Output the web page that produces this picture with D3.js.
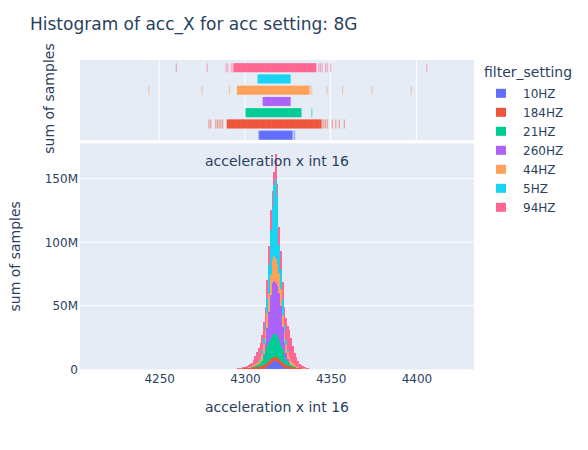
<!DOCTYPE html>
<html><head><meta charset="utf-8">
<script src="https://cdn.jsdelivr.net/npm/d3@7"></script>
<style>
body{margin:0;background:#fff}
text{font-family:"DejaVu Sans",verdana,sans-serif;fill:#2a3f5f}
</style>
</head><body>
<svg id="chart" width="588" height="450"></svg>
<script>
// ---------- data (sum of samples, in millions) ----------
const seriesNames = ["10HZ","184HZ","21HZ","260HZ","44HZ","5HZ","94HZ"];
const seriesColors = ["#636efa","#EF553B","#00cc96","#ab63fa","#FFA15A","#19d3f3","#FF6692"];

const hz10Values = [4308,4309,4310,4311,4312,4313,4314,4315,4316,4317,4318,4319,4320,4321,4322,4323,4324,4325,4326,4327,4328,4329];
const hz10Counts = [0.02,0.05,0.15,0.4,0.9,1.8,3,4.5,5.6,6.3,6.5,5.8,4.6,3.3,2.2,1.3,0.7,0.35,0.15,0.06,0.03,0.01];

const hz184Values = [4279,4280,4283,4284,4285,4286,4287,
  4290,4291,4292,4293,4294,4295,4296,4297,4298,4299,4300,4301,4302,4303,4304,4305,4306,4307,4308,4309,
  4310,4311,4312,4313,4314,4315,4316,4317,4318,4319,4320,4321,4322,4323,4324,4325,4326,4327,4328,4329,
  4330,4331,4332,4333,4334,4335,4336,4337,4338,4339,4340,4341,4342,4343,4344,4345,4346,4347,4348,
  4351,4353,4355,4358];
const hz184Counts = [0.01,0.01,0.01,0.01,0.01,0.01,0.01,
  0.08,0.1,0.15,0.2,0.25,0.3,0.4,0.5,0.6,0.7,0.8,0.9,1.0,1.1,1.3,1.5,1.7,1.9,2.1,2.3,
  2.5,2.7,2.9,3.1,3.3,3.4,3.5,3.5,3.5,3.4,3.2,3.0,2.8,2.5,2.3,2.1,1.9,1.7,1.5,1.3,
  1.1,0.95,0.8,0.7,0.6,0.5,0.4,0.3,0.25,0.2,0.15,0.12,0.1,0.08,0.05,0.04,0.03,0.02,0.02,
  0.01,0.01,0.01,0.01];

const hz21Values = [4301,4302,4303,4304,4305,4306,4307,4308,4309,4310,4311,4312,4313,4314,4315,4316,4317,
  4318,4319,4320,4321,4322,4323,4324,4325,4326,4327,4328,4329,4330,4331,4332,4333,4339];
const hz21Counts = [0.05,0.1,0.2,0.3,0.5,0.8,1.2,1.8,2.8,4.2,6.5,9.5,12.5,15,16.5,17.5,18,
  18,17,15,12.5,10,7,4.5,3,2,1.3,0.8,0.5,0.3,0.15,0.08,0.04,0.01];

const hz260Values = [4311,4312,4313,4314,4315,4316,4317,4318,4319,4320,4321,4322,4323,4324,4325,4326];
const hz260Counts = [2.5,7.5,15,24,34,41,42,40,39,37,31,18,10,5.5,2.5,1];

const hz44Values = [4244,4275,4291,
  4296,4297,4298,4299,4300,4301,4302,4303,4304,4305,4306,4307,4308,4309,4310,4311,4312,4313,4314,4315,4316,4317,
  4318,4319,4320,4321,4322,4323,4324,4325,4326,4327,4328,4329,4330,4331,4332,4333,4334,4335,4336,4337,4338,4339,
  4348,4357,4374,4397];
const hz44Counts = [0.01,0.01,0.01,
  0.05,0.1,0.15,0.2,0.3,0.4,0.5,0.6,0.8,1.2,1.6,2.2,3,4,5.5,7.5,10,12,14,16,18,19,
  19,18,16,13,10,8,6.5,5.5,4.5,3.5,2.5,1.8,1.2,0.8,0.5,0.35,0.25,0.15,0.1,0.06,0.04,0.02,
  0.01,0.01,0.01,0.01];

const hz5Values = [4308,4309,4310,4311,4312,4313,4314,4315,4316,4317,4318,4319,4320,4321,4322,4323,4324,4325,4326];
const hz5Counts = [0.5,1.5,3,5,6,12,23,35,42,56,63,52,22,15,12,6,4,2,0.5];

const hz94Values = [4260,4278,4289,4290,4292,4293,4294,4295,
  4296,4297,4298,4299,4300,4301,4302,4303,4304,4305,4306,4307,4308,4309,4310,4311,4312,4313,4314,4315,
  4316,4317,4318,4319,4320,4321,4322,4323,4324,4325,4326,4327,4328,4329,4330,4331,4332,4333,4334,4335,
  4336,4337,4338,4339,4340,4341,4343,4344,4345,4347,4348,4350,4406];
const hz94Counts = [0.01,0.01,0.01,0.02,0.03,0.04,0.06,0.1,
  0.25,0.4,0.55,0.7,0.9,1.25,1.6,1.9,2.6,4.3,6.4,8.7,9.6,10.3,11.6,12.4,12.2,13.6,14.7,15.6,
  12.4,10.2,19,10.8,14.2,15,14,14.5,16.5,19,20.5,18.4,13.2,9.4,7.1,4.6,3.1,2.4,1.55,1.15,
  0.7,0.54,0.31,0.22,0.15,0.08,0.01,0.01,0.01,0.01,0.01,0.01,0.01];

const seriesValues = [hz10Values,hz184Values,hz21Values,hz260Values,hz44Values,hz5Values,hz94Values];
const seriesCounts = [hz10Counts,hz184Counts,hz21Counts,hz260Counts,hz44Counts,hz5Counts,hz94Counts];

const xTickValues = [4250,4300,4350,4400];
const yTickValues = [0,50,100,150];
const yTickLabels = ["0","50M","100M","150M"];

// ---------- layout ----------
const svg = d3.select("#chart");
const plotL = 80, plotR = 474;
const rugT = 60, rugB = 140;
const mainT = 143.3, mainB = 369.3;
const bg = "#E5ECF6";

const x = d3.scaleLinear().domain([4203.8, 4433.6]).range([plotL, plotR]);
const y = d3.scaleLinear().domain([0, 177.8]).range([mainB, mainT]);
const rowY = d3.scalePoint().domain(seriesNames).range([rugB - 4.8, rugT + 7.7]);

// backgrounds
svg.append("rect").attr("x", plotL).attr("y", rugT).attr("width", plotR - plotL).attr("height", rugB - rugT).attr("fill", bg);
svg.append("rect").attr("x", plotL).attr("y", mainT).attr("width", plotR - plotL).attr("height", mainB - mainT).attr("fill", bg);

// rug gridlines (vertical)
svg.append("g").selectAll("line").data(xTickValues).join("line")
  .attr("x1", d => x(d)).attr("x2", d => x(d)).attr("y1", rugT).attr("y2", rugB)
  .attr("stroke", "#fff").attr("stroke-width", 1);

// main gridlines (horizontal)
svg.append("g").selectAll("line").data(yTickValues.filter(d => d > 0)).join("line")
  .attr("x1", plotL).attr("x2", plotR).attr("y1", d => y(d)).attr("y2", d => y(d))
  .attr("stroke", "#fff").attr("stroke-width", 1);

// ---------- stacked histogram ----------
const allValues = Array.from(new Set(seriesValues.flat())).sort((a, b) => a - b);
const table = allValues.map(v => {
  const row = {value: v};
  seriesNames.forEach((s, i) => {
    const k = seriesValues[i].indexOf(v);
    row[s] = k >= 0 ? seriesCounts[i][k] : 0;
  });
  return row;
});
const stacked = d3.stack().keys(seriesNames)(table);

const barG = svg.append("g");
stacked.forEach((layer, i) => {
  barG.append("g").attr("fill", seriesColors[i]).attr("shape-rendering", "crispEdges")
    .selectAll("rect").data(layer.filter(d => d[1] > d[0])).join("rect")
    .attr("x", d => x(d.data.value - 0.5))
    .attr("width", d => x(d.data.value + 0.5) - x(d.data.value - 0.5))
    .attr("y", d => y(d[1]))
    .attr("height", d => Math.max(0, y(d[0]) - y(d[1])));
});

// ---------- rug ----------
const rugG = svg.append("g");
seriesNames.forEach((s, i) => {
  const pts = seriesValues[i].map((v, k) => ({v, c: seriesCounts[i][k]}));
  rugG.append("g").attr("stroke", seriesColors[i])
    .selectAll("line").data(pts).join("line")
    .attr("x1", d => x(d.v)).attr("x2", d => x(d.v))
    .attr("y1", rowY(s) - 4.5).attr("y2", rowY(s) + 4.5)
    .attr("stroke-width", d => d.c >= 0.05 ? 2.3 : 1.2)
    .attr("stroke-opacity", d => d.c >= 0.05 ? 1 : 0.5);
});

// ---------- axes ----------
const xAxis = svg.append("g").attr("transform", `translate(0,${mainB})`)
  .call(d3.axisBottom(x).tickValues(xTickValues).tickSize(0).tickPadding(5.5).tickFormat(d3.format("d")));
xAxis.select(".domain").remove();
xAxis.selectAll("text").style("font-size", "12px").style("font-family", "'DejaVu Sans',verdana,sans-serif").attr("fill", "#2a3f5f");

const yAxis = svg.append("g").attr("transform", `translate(${plotL},0)`)
  .call(d3.axisLeft(y).tickValues(yTickValues).tickSize(0).tickPadding(2)
    .tickFormat((d, i) => yTickLabels[i]));
yAxis.select(".domain").remove();
yAxis.selectAll("text").style("font-size", "12px").style("font-family", "'DejaVu Sans',verdana,sans-serif").attr("fill", "#2a3f5f");

// ---------- texts ----------
svg.append("text").attr("x", 30).attr("y", 30).style("font-size", "17px")
  .text("Histogram of acc_X for acc setting: 8G");

svg.append("text").attr("x", (plotL + plotR) / 2).attr("y", 166).attr("text-anchor", "middle")
  .style("font-size", "14px").text("acceleration x int 16");

svg.append("text").attr("x", (plotL + plotR) / 2).attr("y", 411.5).attr("text-anchor", "middle")
  .style("font-size", "14px").text("acceleration x int 16");

svg.append("text").attr("transform", `translate(20,${(mainT + mainB) / 2}) rotate(-90)`)
  .attr("text-anchor", "middle").style("font-size", "14px").text("sum of samples");

svg.append("text").attr("transform", `translate(54,${(rugT + rugB) / 2 - 1.5}) rotate(-90)`)
  .attr("text-anchor", "middle").style("font-size", "14px").text("sum of samples");

// ---------- legend ----------
const leg = svg.append("g");
leg.append("text").attr("x", 484).attr("y", 77).style("font-size", "14px").text("filter_setting");
const items = leg.selectAll("g.item").data(seriesNames).join("g").attr("class", "item")
  .attr("transform", (d, i) => `translate(0,${93.3 + i * 19})`);
items.append("rect").attr("x", 496).attr("y", -4.5).attr("width", 10).attr("height", 9)
  .attr("fill", (d, i) => seriesColors[i]);
items.append("text").attr("x", 523).attr("dy", "0.35em").style("font-size", "12px").text(d => d);
</script>
</body></html>
